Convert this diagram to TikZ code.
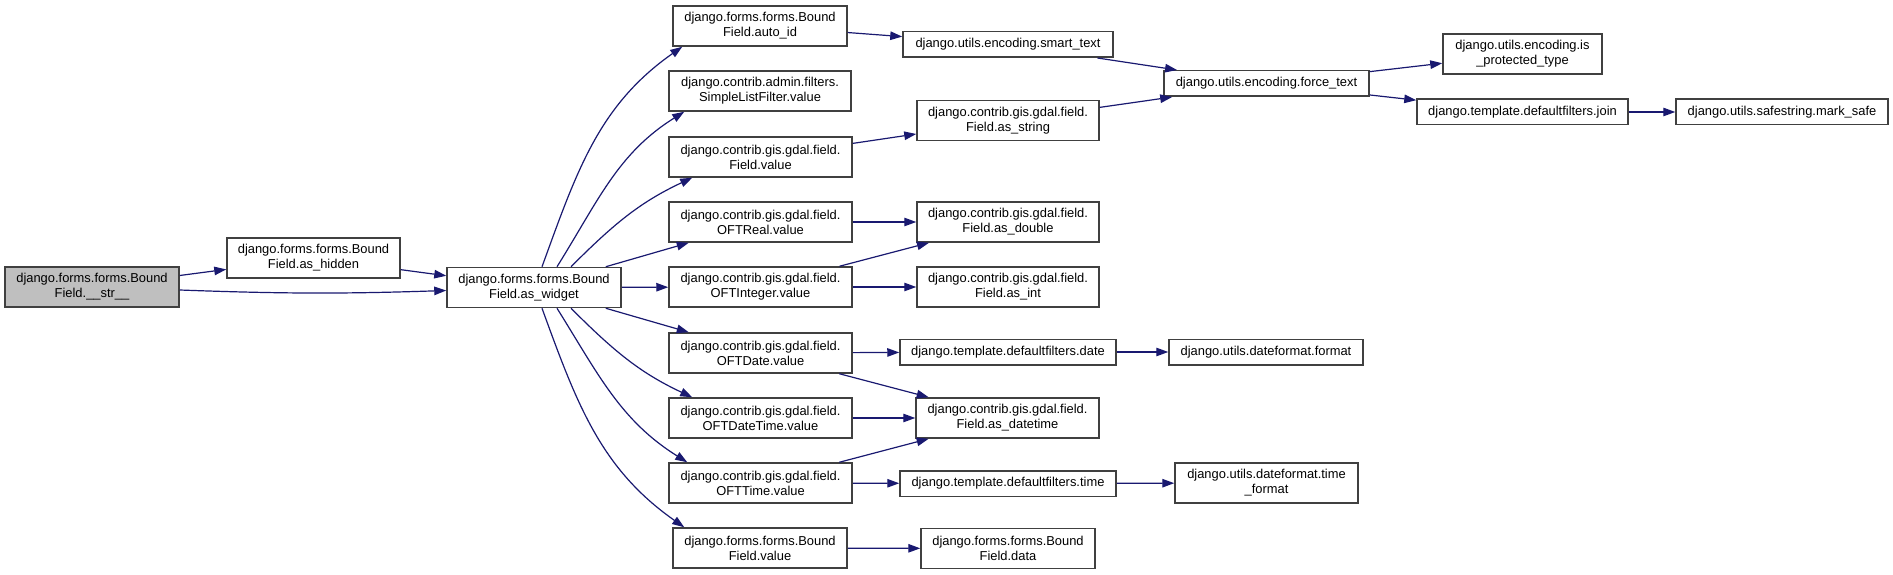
\documentclass[tikz,border=0pt]{standalone}
\usepackage{fontspec}
\setmainfont{Liberation Sans}
\usetikzlibrary{arrows.meta}
\definecolor{edge-blue}{HTML}{191970}
\definecolor{box-gray}{HTML}{BFBFBF}
\definecolor{box-line}{HTML}{404040}
\tikzset{
    call-box/.style = {draw=box-line, fill=white, line width=1.5pt, rectangle, align=center, inner sep=0pt, minimum height=40pt, font=\fontsize{12.9}{15}\selectfont},
    line-box/.style = {call-box, minimum height=25.5pt},
    root-box/.style = {call-box, fill=box-gray},
    call-edge/.style = {draw=edge-blue, line width=1.2pt, -{Triangle[length=12pt,width=8.5pt]}},
}
\begin{document}
\begin{tikzpicture}[x=1pt, y=1pt]
\useasboundingbox (0,0) rectangle (1893,-575);
\node[root-box, minimum width=174pt] (str) at (92,-287) {django.forms.forms.Bound\\Field.\_\_str\_\_};
\node[call-box, minimum width=173pt] (hidden) at (313.5,-258) {django.forms.forms.Bound\\Field.as\_hidden};
\node[call-box, minimum width=174pt] (widget) at (534,-287.5) {django.forms.forms.Bound\\Field.as\_widget};

\node[call-box, minimum width=174pt] (autoid) at (760,-26) {django.forms.forms.Bound\\Field.auto\_id};
\node[call-box, minimum width=182pt] (listfilter) at (760,-91) {django.contrib.admin.filters.\\SimpleListFilter.value};
\node[call-box, minimum width=183pt] (fvalue) at (760.5,-157) {django.contrib.gis.gdal.field.\\Field.value};
\node[call-box, minimum width=183pt] (oftreal) at (760.5,-222) {django.contrib.gis.gdal.field.\\OFTReal.value};
\node[call-box, minimum width=183pt] (oftint) at (760.5,-287) {django.contrib.gis.gdal.field.\\OFTInteger.value};
\node[call-box, minimum width=183pt] (oftdate) at (760.5,-353) {django.contrib.gis.gdal.field.\\OFTDate.value};
\node[call-box, minimum width=183pt] (oftdatetime) at (760.5,-418) {django.contrib.gis.gdal.field.\\OFTDateTime.value};
\node[call-box, minimum width=183pt] (ofttime) at (760.5,-483) {django.contrib.gis.gdal.field.\\OFTTime.value};
\node[call-box, minimum width=174pt] (bfvalue) at (760,-548) {django.forms.forms.Bound\\Field.value};

\node[line-box, minimum width=210pt] (smarttext) at (1008,-44.5) {django.utils.encoding.smart\_text};
\node[call-box, minimum width=182pt] (asstring) at (1008,-120.5) {django.contrib.gis.gdal.field.\\Field.as\_string};
\node[call-box, minimum width=182pt] (asdouble) at (1008,-222) {django.contrib.gis.gdal.field.\\Field.as\_double};
\node[call-box, minimum width=182pt] (asint) at (1008,-287) {django.contrib.gis.gdal.field.\\Field.as\_int};
\node[line-box, minimum width=216pt] (dfdate) at (1008,-352) {django.template.defaultfilters.date};
\node[call-box, minimum width=183pt] (asdatetime) at (1007.5,-418) {django.contrib.gis.gdal.field.\\Field.as\_datetime};
\node[line-box, minimum width=216pt] (dftime) at (1008,-483.5) {django.template.defaultfilters.time};
\node[call-box, minimum width=174pt] (bfdata) at (1008,-548.5) {django.forms.forms.Bound\\Field.data};

\node[line-box, minimum width=205pt] (forcetext) at (1266.5,-83.5) {django.utils.encoding.force\_text};
\node[line-box, minimum width=194pt] (dfformat) at (1266,-352) {django.utils.dateformat.format};
\node[call-box, minimum width=183pt] (timeformat) at (1266.5,-483) {django.utils.dateformat.time\\\_format};

\node[call-box, minimum width=159pt] (isprotected) at (1522.5,-54) {django.utils.encoding.is\\\_protected\_type};
\node[line-box, minimum width=211pt] (join) at (1522.5,-112) {django.template.defaultfilters.join};
\node[line-box, minimum width=212pt] (marksafe) at (1782,-112) {django.utils.safestring.mark\_safe};

\draw[call-edge] (str) -- (hidden);
\draw[call-edge] ([yshift=-3pt]str.east) to[bend right=2] ([yshift=-3pt]widget.west);
\draw[call-edge] (hidden) -- (widget);

\draw[call-edge] ([xshift=8pt]widget.north) to[out=70, in=215] ([xshift=10pt]autoid.south west);
\draw[call-edge] ([xshift=23pt]widget.north) to[out=58, in=212] ([xshift=16pt]listfilter.south west);
\draw[call-edge] ([xshift=37pt]widget.north) to[out=45, in=205] ([xshift=24pt]fvalue.south west);
\draw[call-edge] (widget) -- (oftreal);
\draw[call-edge] (widget) -- (oftint);
\draw[call-edge] (widget) -- (oftdate);
\draw[call-edge] ([xshift=37pt]widget.south) to[out=-45, in=155] ([xshift=24pt]oftdatetime.north west);
\draw[call-edge] ([xshift=23pt]widget.south) to[out=-58, in=148] ([xshift=19pt]ofttime.north west);
\draw[call-edge] ([xshift=8pt]widget.south) to[out=-70, in=145] ([xshift=12pt]bfvalue.north west);

\draw[call-edge] (autoid) -- (smarttext);
\draw[call-edge] (fvalue) -- (asstring);
\draw[call-edge] (smarttext) -- (forcetext);
\draw[call-edge] (asstring) -- (forcetext);
\draw[call-edge] (forcetext) -- (isprotected);
\draw[call-edge] (forcetext) -- (join);
\draw[call-edge] (join) -- (marksafe);

\draw[call-edge] (oftreal) -- (asdouble);
\draw[call-edge] (oftint) -- (asdouble);
\draw[call-edge] (oftint) -- (asint);
\draw[call-edge] (oftdate) -- (dfdate);
\draw[call-edge] (oftdate) -- (asdatetime);
\draw[call-edge] (dfdate) -- (dfformat);
\draw[call-edge] (oftdatetime) -- (asdatetime);
\draw[call-edge] (ofttime) -- (asdatetime);
\draw[call-edge] (ofttime) -- (dftime);
\draw[call-edge] (dftime) -- (timeformat);
\draw[call-edge] (bfvalue) -- (bfdata);
\end{tikzpicture}
\end{document}
